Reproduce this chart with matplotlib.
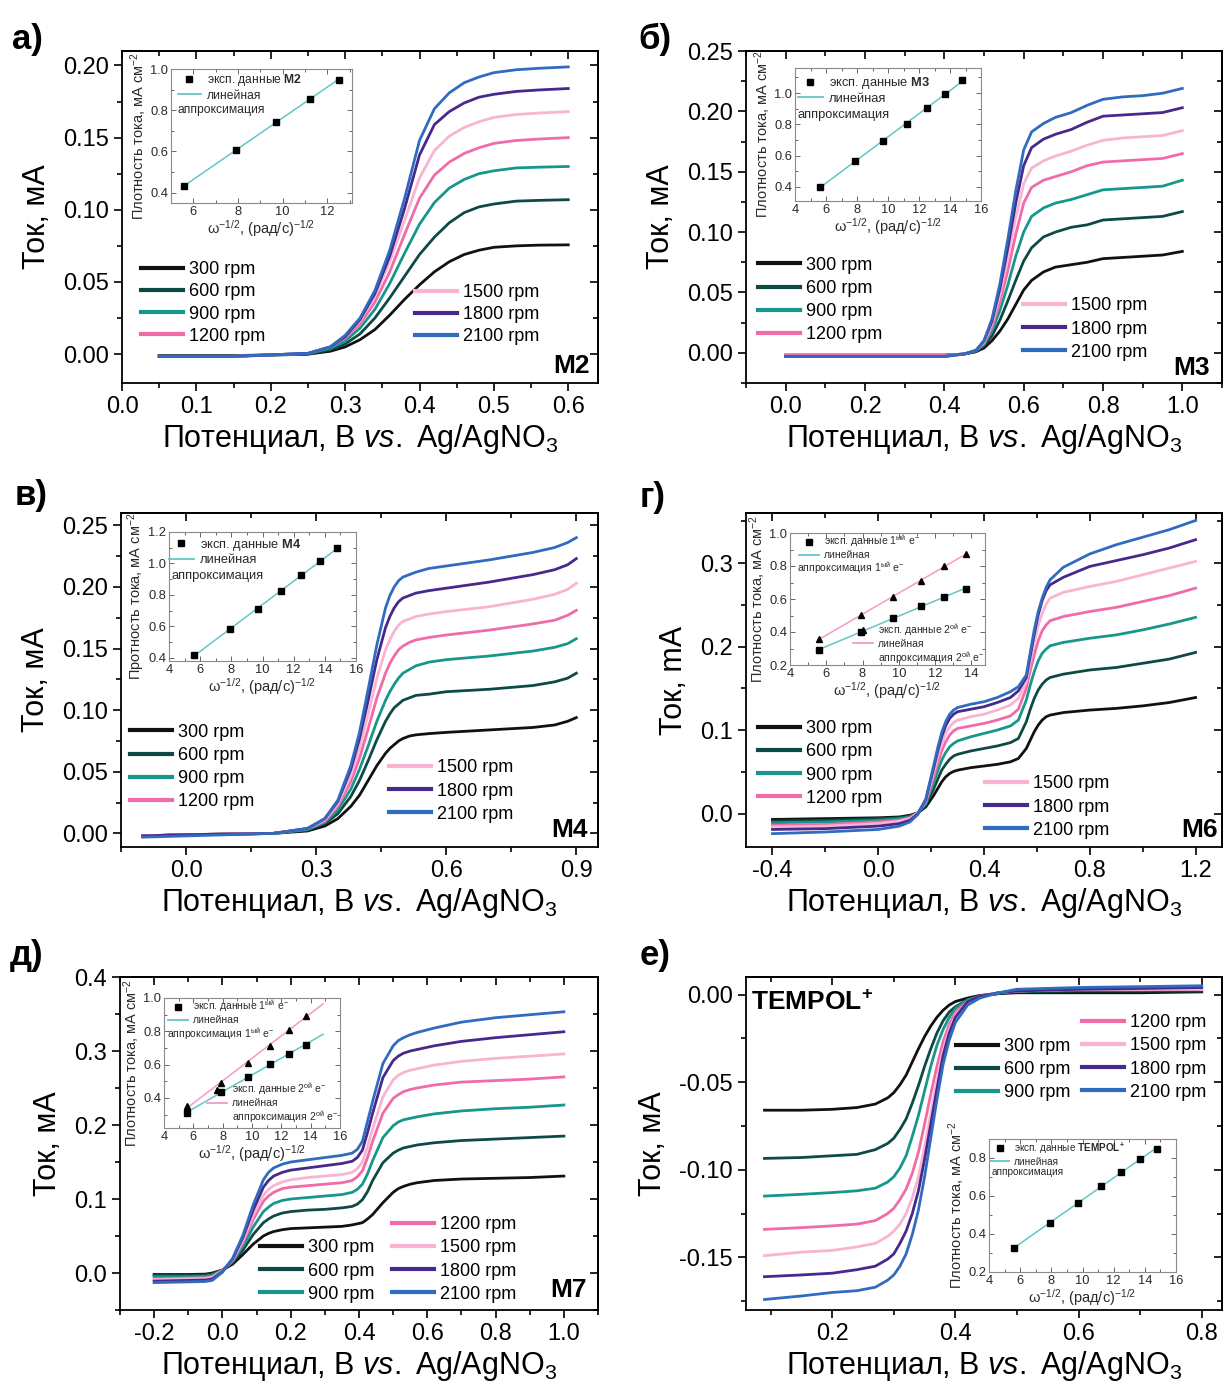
import numpy as np
import matplotlib
matplotlib.use('Agg')
import matplotlib.pyplot as plt
from matplotlib.ticker import MultipleLocator, FuncFormatter, NullFormatter
from matplotlib.lines import Line2D

plt.rcParams['font.family'] = ['Liberation Sans', 'DejaVu Sans']
plt.rcParams['mathtext.fontset'] = 'custom'
plt.rcParams['mathtext.rm'] = 'Liberation Sans'
plt.rcParams['mathtext.it'] = 'Liberation Sans:italic'
plt.rcParams['mathtext.bf'] = 'Liberation Sans:bold'
plt.rcParams['axes.unicode_minus'] = False

W, H = 1224, 1384

RPM = ['300 rpm', '600 rpm', '900 rpm', '1200 rpm', '1500 rpm', '1800 rpm', '2100 rpm']
COLORS = ['#111111', '#0e4a45', '#17968c', '#f06ba8', '#f8b4d2', '#47288c', '#2f6cc0']
FIT_CYAN = '#63c5c7'
FIT_PINK = '#f39bc2'

# ---- panel а) M2 ----
E_M2 = [0.05, 0.15, 0.25, 0.28, 0.30, 0.32, 0.34, 0.36, 0.38, 0.40, 0.42, 0.44, 0.46, 0.48, 0.50, 0.53, 0.56, 0.60]
I_M2 = [
    [-0.0010, -0.0010, 0.0000, 0.002, 0.005, 0.010, 0.017, 0.027, 0.038, 0.048, 0.057, 0.064, 0.069, 0.072, 0.074, 0.075, 0.0755, 0.0757],
    [-0.0015, -0.0015, 0.0000, 0.003, 0.007, 0.014, 0.025, 0.039, 0.054, 0.069, 0.081, 0.091, 0.098, 0.102, 0.104, 0.106, 0.1065, 0.107],
    [-0.0015, -0.0015, 0.0005, 0.004, 0.009, 0.018, 0.031, 0.049, 0.070, 0.090, 0.105, 0.115, 0.121, 0.125, 0.127, 0.129, 0.1295, 0.130],
    [-0.0015, -0.0015, 0.0005, 0.005, 0.011, 0.021, 0.036, 0.057, 0.083, 0.108, 0.124, 0.133, 0.139, 0.143, 0.146, 0.148, 0.149, 0.150],
    [-0.0015, -0.0015, 0.0005, 0.005, 0.012, 0.023, 0.040, 0.064, 0.093, 0.122, 0.141, 0.151, 0.157, 0.161, 0.164, 0.166, 0.167, 0.168],
    [-0.0015, -0.0015, 0.0005, 0.005, 0.012, 0.024, 0.042, 0.068, 0.101, 0.138, 0.159, 0.168, 0.174, 0.178, 0.180, 0.182, 0.183, 0.184],
    [-0.0015, -0.0015, 0.0005, 0.005, 0.013, 0.025, 0.044, 0.072, 0.108, 0.148, 0.170, 0.181, 0.188, 0.192, 0.195, 0.197, 0.198, 0.199],
]
X_M2 = [5.6, 7.9, 9.7, 11.2, 12.5]
J_M2 = [0.433, 0.606, 0.743, 0.854, 0.948]

# ---- panel б) M3 ----
E_M3 = [0.0, 0.2, 0.4, 0.45, 0.48, 0.50, 0.52, 0.54, 0.56, 0.58, 0.60, 0.62, 0.65, 0.68, 0.72, 0.76, 0.80, 0.85, 0.90, 0.95, 1.0]
I_M3 = [
    [-0.002, -0.002, -0.002, -0.001, 0.001, 0.004, 0.010, 0.018, 0.028, 0.040, 0.052, 0.060, 0.067, 0.071, 0.073, 0.075, 0.078, 0.079, 0.080, 0.081, 0.084],
    [-0.002, -0.002, -0.002, -0.001, 0.001, 0.006, 0.014, 0.027, 0.043, 0.060, 0.076, 0.087, 0.096, 0.100, 0.104, 0.106, 0.110, 0.111, 0.112, 0.113, 0.117],
    [-0.002, -0.002, -0.002, -0.001, 0.002, 0.007, 0.018, 0.035, 0.056, 0.080, 0.100, 0.113, 0.120, 0.124, 0.127, 0.131, 0.135, 0.136, 0.137, 0.138, 0.143],
    [-0.002, -0.002, -0.002, -0.001, 0.002, 0.008, 0.021, 0.042, 0.068, 0.098, 0.124, 0.137, 0.143, 0.146, 0.150, 0.155, 0.158, 0.159, 0.160, 0.161, 0.165],
    [-0.003, -0.003, -0.003, -0.001, 0.002, 0.009, 0.024, 0.048, 0.078, 0.112, 0.140, 0.153, 0.159, 0.163, 0.167, 0.172, 0.176, 0.178, 0.179, 0.180, 0.184],
    [-0.003, -0.003, -0.003, -0.001, 0.002, 0.010, 0.026, 0.053, 0.087, 0.124, 0.155, 0.170, 0.177, 0.181, 0.185, 0.191, 0.196, 0.197, 0.198, 0.199, 0.203],
    [-0.003, -0.003, -0.003, -0.001, 0.002, 0.010, 0.028, 0.057, 0.094, 0.134, 0.168, 0.183, 0.190, 0.195, 0.199, 0.205, 0.210, 0.212, 0.213, 0.215, 0.219],
]
X_M3 = [5.6, 7.9, 9.7, 11.2, 12.5, 13.7, 14.8]
J_M3 = [0.400, 0.564, 0.694, 0.805, 0.902, 0.994, 1.081]

# ---- panel в) M4 ----
E_M4 = [-0.10, 0.00, 0.10, 0.20, 0.28, 0.32, 0.35, 0.38, 0.40, 0.42, 0.44, 0.46, 0.47, 0.48, 0.49, 0.50, 0.515, 0.53, 0.56, 0.60, 0.70, 0.80, 0.85, 0.88, 0.90]
I_M4 = [
    [-0.002, -0.001, -0.0005, 0.000, 0.002, 0.006, 0.012, 0.022, 0.031, 0.043, 0.055, 0.065, 0.069, 0.072, 0.075, 0.077, 0.079, 0.080, 0.081, 0.082, 0.084, 0.086, 0.088, 0.091, 0.094],
    [-0.002, -0.001, -0.0005, 0.000, 0.003, 0.008, 0.016, 0.030, 0.043, 0.059, 0.076, 0.091, 0.097, 0.102, 0.105, 0.108, 0.110, 0.112, 0.113, 0.115, 0.117, 0.120, 0.123, 0.126, 0.130],
    [-0.002, -0.001, -0.0005, 0.000, 0.003, 0.009, 0.019, 0.036, 0.052, 0.071, 0.091, 0.108, 0.115, 0.121, 0.126, 0.130, 0.133, 0.136, 0.139, 0.141, 0.144, 0.148, 0.151, 0.154, 0.158],
    [-0.002, -0.001, -0.0005, 0.000, 0.004, 0.010, 0.022, 0.042, 0.061, 0.085, 0.110, 0.130, 0.138, 0.144, 0.149, 0.152, 0.155, 0.157, 0.159, 0.161, 0.165, 0.170, 0.173, 0.177, 0.181],
    [-0.002, -0.001, -0.0005, 0.000, 0.004, 0.011, 0.024, 0.047, 0.069, 0.097, 0.126, 0.149, 0.157, 0.164, 0.169, 0.172, 0.174, 0.176, 0.178, 0.180, 0.184, 0.190, 0.194, 0.198, 0.203],
    [-0.002, -0.001, -0.0005, 0.000, 0.004, 0.012, 0.026, 0.052, 0.077, 0.108, 0.141, 0.167, 0.176, 0.183, 0.188, 0.191, 0.193, 0.195, 0.197, 0.199, 0.204, 0.210, 0.214, 0.218, 0.223],
    [-0.003, -0.002, -0.001, 0.000, 0.004, 0.012, 0.027, 0.055, 0.082, 0.117, 0.153, 0.183, 0.193, 0.200, 0.205, 0.208, 0.210, 0.212, 0.215, 0.217, 0.222, 0.228, 0.232, 0.236, 0.240],
]
X_M4 = [5.6, 7.9, 9.7, 11.2, 12.5, 13.7, 14.8]
J_M4 = [0.415, 0.583, 0.713, 0.823, 0.925, 1.016, 1.098]

# ---- panel г) M6 ----
E_M6 = [-0.40, -0.20, 0.00, 0.08, 0.12, 0.15, 0.18, 0.21, 0.225, 0.24, 0.255, 0.27, 0.285, 0.30, 0.35, 0.40, 0.45, 0.50, 0.53, 0.56, 0.575, 0.59, 0.605, 0.62, 0.635, 0.65, 0.70, 0.80, 0.90, 1.00, 1.10, 1.20]
I_M6 = [
    [-0.007, -0.006, -0.005, -0.004, -0.002, 0.001, 0.008, 0.022, 0.030, 0.038, 0.044, 0.048, 0.0505, 0.052, 0.055, 0.057, 0.059, 0.062, 0.066, 0.078, 0.088, 0.098, 0.106, 0.112, 0.116, 0.118, 0.121, 0.124, 0.126, 0.129, 0.133, 0.139],
    [-0.009, -0.008, -0.006, -0.005, -0.003, 0.001, 0.010, 0.030, 0.041, 0.052, 0.059, 0.065, 0.069, 0.071, 0.075, 0.078, 0.081, 0.085, 0.090, 0.110, 0.125, 0.138, 0.148, 0.155, 0.160, 0.163, 0.167, 0.172, 0.175, 0.180, 0.185, 0.193],
    [-0.011, -0.010, -0.008, -0.006, -0.004, 0.001, 0.012, 0.037, 0.051, 0.064, 0.073, 0.080, 0.084, 0.087, 0.092, 0.096, 0.100, 0.105, 0.112, 0.136, 0.154, 0.170, 0.183, 0.192, 0.197, 0.201, 0.205, 0.210, 0.214, 0.220, 0.227, 0.235],
    [-0.014, -0.013, -0.010, -0.008, -0.005, 0.001, 0.014, 0.044, 0.060, 0.075, 0.086, 0.094, 0.099, 0.102, 0.105, 0.108, 0.112, 0.117, 0.125, 0.150, 0.171, 0.190, 0.207, 0.219, 0.226, 0.231, 0.236, 0.242, 0.247, 0.254, 0.261, 0.270],
    [-0.016, -0.015, -0.012, -0.009, -0.006, 0.001, 0.016, 0.050, 0.068, 0.084, 0.096, 0.104, 0.109, 0.112, 0.116, 0.119, 0.124, 0.130, 0.138, 0.158, 0.182, 0.205, 0.225, 0.240, 0.251, 0.258, 0.265, 0.272, 0.278, 0.286, 0.294, 0.302],
    [-0.019, -0.018, -0.015, -0.012, -0.008, 0.000, 0.017, 0.055, 0.075, 0.092, 0.105, 0.114, 0.119, 0.122, 0.125, 0.128, 0.133, 0.139, 0.147, 0.163, 0.189, 0.215, 0.238, 0.255, 0.267, 0.274, 0.283, 0.296, 0.303, 0.310, 0.318, 0.328],
    [-0.024, -0.022, -0.019, -0.015, -0.010, -0.001, 0.017, 0.058, 0.079, 0.097, 0.110, 0.119, 0.124, 0.127, 0.131, 0.134, 0.139, 0.146, 0.152, 0.166, 0.193, 0.220, 0.242, 0.258, 0.271, 0.280, 0.295, 0.311, 0.322, 0.331, 0.340, 0.351],
]
X_M6 = [5.6, 7.9, 9.7, 11.2, 12.5, 13.7]
J_M6_1 = [0.288, 0.403, 0.486, 0.560, 0.610, 0.661]
J_M6_2 = [0.355, 0.503, 0.615, 0.712, 0.800, 0.870]

# ---- panel д) M7 ----
E_M7 = [-0.20, -0.10, -0.05, -0.03, 0.00, 0.03, 0.06, 0.09, 0.12, 0.135, 0.15, 0.175, 0.20, 0.25, 0.30, 0.35, 0.38, 0.395, 0.41, 0.425, 0.44, 0.47, 0.50, 0.515, 0.53, 0.55, 0.57, 0.62, 0.70, 0.80, 0.90, 1.00]
I_M7 = [
    [-0.002, -0.002, -0.0015, 0.000, 0.004, 0.012, 0.025, 0.039, 0.050, 0.0535, 0.056, 0.0585, 0.060, 0.061, 0.062, 0.063, 0.065, 0.0665, 0.068, 0.073, 0.079, 0.095, 0.109, 0.114, 0.117, 0.120, 0.122, 0.125, 0.127, 0.128, 0.129, 0.131],
    [-0.003, -0.003, -0.0025, -0.001, 0.004, 0.014, 0.031, 0.052, 0.068, 0.073, 0.077, 0.081, 0.083, 0.085, 0.086, 0.088, 0.090, 0.093, 0.099, 0.110, 0.125, 0.149, 0.162, 0.166, 0.169, 0.171, 0.173, 0.176, 0.179, 0.181, 0.183, 0.185],
    [-0.005, -0.005, -0.0045, -0.003, 0.004, 0.016, 0.036, 0.062, 0.083, 0.089, 0.094, 0.098, 0.100, 0.102, 0.104, 0.106, 0.109, 0.113, 0.120, 0.134, 0.152, 0.183, 0.199, 0.204, 0.207, 0.209, 0.211, 0.215, 0.219, 0.222, 0.224, 0.227],
    [-0.008, -0.007, -0.0065, -0.005, 0.003, 0.017, 0.041, 0.072, 0.097, 0.104, 0.109, 0.114, 0.116, 0.118, 0.120, 0.122, 0.125, 0.130, 0.138, 0.156, 0.178, 0.216, 0.236, 0.241, 0.245, 0.248, 0.250, 0.254, 0.258, 0.260, 0.262, 0.265],
    [-0.009, -0.008, -0.0075, -0.006, 0.003, 0.018, 0.044, 0.078, 0.105, 0.113, 0.118, 0.123, 0.126, 0.129, 0.131, 0.133, 0.136, 0.141, 0.150, 0.171, 0.195, 0.238, 0.261, 0.267, 0.271, 0.274, 0.276, 0.281, 0.286, 0.290, 0.293, 0.296],
    [-0.011, -0.010, -0.0095, -0.008, 0.002, 0.019, 0.048, 0.085, 0.116, 0.125, 0.131, 0.136, 0.139, 0.142, 0.145, 0.148, 0.151, 0.156, 0.166, 0.190, 0.216, 0.264, 0.287, 0.293, 0.297, 0.300, 0.302, 0.307, 0.313, 0.318, 0.322, 0.326],
    [-0.013, -0.012, -0.0115, -0.010, 0.001, 0.020, 0.051, 0.092, 0.126, 0.136, 0.142, 0.147, 0.150, 0.153, 0.156, 0.159, 0.162, 0.167, 0.178, 0.205, 0.232, 0.283, 0.307, 0.314, 0.318, 0.322, 0.325, 0.331, 0.339, 0.345, 0.349, 0.353],
]
X_M7 = [5.6, 7.9, 9.7, 11.2, 12.5, 13.7]
J_M7_1 = [0.312, 0.435, 0.528, 0.602, 0.665, 0.719]
J_M7_2 = [0.350, 0.492, 0.609, 0.714, 0.810, 0.894]

# ---- panel е) TEMPOL+ ----
E_TEMPOL = [0.09, 0.15, 0.20, 0.24, 0.27, 0.29, 0.30, 0.31, 0.32, 0.33, 0.34, 0.35, 0.36, 0.37, 0.38, 0.39, 0.40, 0.42, 0.44, 0.47, 0.50, 0.60, 0.70, 0.80]
I_TEMPOL = [
    [-0.066, -0.066, -0.0655, -0.0645, -0.0625, -0.059, -0.056, -0.0515, -0.046, -0.0385, -0.031, -0.024, -0.018, -0.013, -0.009, -0.006, -0.004, -0.002, -0.0005, 0.0005, 0.001, 0.001, 0.001, 0.0015],
    [-0.0935, -0.093, -0.092, -0.0912, -0.0885, -0.085, -0.082, -0.077, -0.071, -0.062, -0.052, -0.041, -0.031, -0.022, -0.015, -0.010, -0.007, -0.003, -0.001, 0.0005, 0.0015, 0.002, 0.002, 0.002],
    [-0.115, -0.114, -0.113, -0.112, -0.1105, -0.107, -0.104, -0.099, -0.092, -0.081, -0.069, -0.055, -0.041, -0.029, -0.020, -0.013, -0.008, -0.003, -0.001, 0.001, 0.002, 0.0025, 0.0025, 0.003],
    [-0.134, -0.133, -0.132, -0.131, -0.129, -0.125, -0.122, -0.117, -0.111, -0.102, -0.090, -0.074, -0.057, -0.041, -0.027, -0.017, -0.010, -0.004, -0.001, 0.001, 0.002, 0.003, 0.003, 0.003],
    [-0.149, -0.147, -0.146, -0.144, -0.142, -0.138, -0.135, -0.131, -0.125, -0.116, -0.104, -0.087, -0.068, -0.049, -0.032, -0.020, -0.012, -0.004, -0.001, 0.001, 0.002, 0.003, 0.003, 0.003],
    [-0.161, -0.160, -0.159, -0.157, -0.155, -0.151, -0.148, -0.142, -0.135, -0.125, -0.112, -0.094, -0.074, -0.054, -0.035, -0.022, -0.013, -0.004, -0.001, 0.001, 0.002, 0.003, 0.0035, 0.004],
    [-0.174, -0.172, -0.170, -0.169, -0.167, -0.163, -0.160, -0.155, -0.148, -0.137, -0.123, -0.104, -0.082, -0.060, -0.040, -0.026, -0.016, -0.006, -0.002, 0.001, 0.003, 0.004, 0.0045, 0.005],
]
X_TEMPOL = [5.6, 7.9, 9.7, 11.2, 12.5, 13.7, 14.8]
J_TEMPOL = [0.324, 0.459, 0.563, 0.655, 0.726, 0.796, 0.849]

XLABEL = r'Потенциал, В $\mathit{vs.}$ Ag/AgNO$_3$'
INSET_XLABEL = r'ω$^{-1/2}$, (рад/с)$^{-1/2}$'
TXT = '#2a2a2a'

fig = plt.figure(figsize=(W / 100, H / 100), dpi=100)


def px_box(l, t, r, b):
    return [l / W, 1 - b / H, (r - l) / W, (b - t) / H]


def fpt(x, y):
    return (x / W, 1 - y / H)


def fmt(n):
    return FuncFormatter(lambda v, p: f'{round(v, 6) + 0.0:.{n}f}')


def keep_legend(ax, leg):
    # detach from ax.legend_ so the legend is drawn only once
    ax.legend_ = None
    ax.add_artist(leg)


def main_panel(box, E, curves, xlim, ylim, xstep, ystep, xdec, ydec, ylabel='Ток, мА'):
    ax = fig.add_axes(px_box(*box))
    for ys, c in zip(curves, COLORS):
        ax.plot(E, ys, color=c, lw=2.0)
    ax.set_xlim(*xlim)
    ax.set_ylim(*ylim)
    ax.xaxis.set_major_locator(MultipleLocator(xstep))
    ax.xaxis.set_minor_locator(MultipleLocator(xstep / 2))
    ax.yaxis.set_major_locator(MultipleLocator(ystep))
    ax.yaxis.set_minor_locator(MultipleLocator(ystep / 2))
    ax.xaxis.set_major_formatter(fmt(xdec))
    ax.yaxis.set_major_formatter(fmt(ydec))
    ax.tick_params(which='major', direction='out', length=6, width=1.2, labelsize=17)
    ax.tick_params(which='minor', direction='out', length=3.5, width=1.2)
    for s in ax.spines.values():
        s.set_linewidth(1.3)
    # mirrored ticks pointing inwards on top and right
    sx = ax.secondary_xaxis('top')
    sy = ax.secondary_yaxis('right')
    for sec, axis in ((sx, sx.xaxis), (sy, sy.yaxis)):
        step = xstep if sec is sx else ystep
        axis.set_major_locator(MultipleLocator(step))
        axis.set_minor_locator(MultipleLocator(step / 2))
        axis.set_major_formatter(NullFormatter())
        sec.tick_params(which='major', direction='in', length=6, width=1.2)
        sec.tick_params(which='minor', direction='in', length=3.5, width=1.2)
        for s in sec.spines.values():
            s.set_linewidth(1.3)
    ax.set_xlabel(XLABEL, fontsize=22, labelpad=3)
    ax.set_ylabel(ylabel, fontsize=22, labelpad=8)
    return ax


def rpm_legend(ax, idx, x, yc, ls=0.34):
    handles = [Line2D([], [], color=COLORS[i], lw=3) for i in idx]
    leg = ax.legend(handles, [RPM[i] for i in idx], loc='center left',
                    bbox_to_anchor=fpt(x, yc), bbox_transform=fig.transFigure,
                    frameon=False, fontsize=13, handlelength=2.3, handletextpad=0.35,
                    labelspacing=ls, borderpad=0, borderaxespad=0)
    keep_legend(ax, leg)


def inset_panel(box, xlim, ylim, ylabel='Плотность тока, мА см$^{-2}$'):
    ai = fig.add_axes(px_box(*box))
    ai.set_xlim(*xlim)
    ai.set_ylim(*ylim)
    ai.xaxis.set_major_locator(MultipleLocator(2))
    ai.xaxis.set_minor_locator(MultipleLocator(1))
    ai.yaxis.set_major_locator(MultipleLocator(0.2))
    ai.yaxis.set_minor_locator(MultipleLocator(0.1))
    ai.xaxis.set_major_formatter(fmt(0))
    ai.yaxis.set_major_formatter(fmt(1))
    ai.tick_params(which='both', direction='in', top=True, right=True, width=0.7,
                   color='#666666', labelsize=9.3, labelcolor=TXT, pad=2)
    ai.tick_params(which='major', length=3.5)
    ai.tick_params(which='minor', length=2)
    for s in ai.spines.values():
        s.set_linewidth(0.8)
        s.set_color('#8a8a8a')
    ai.set_xlabel(INSET_XLABEL, fontsize=10.5, labelpad=0, color=TXT)
    ai.set_ylabel(ylabel, fontsize=10.5, labelpad=1, color=TXT)
    return ai


def fit_line(ai, X, J, color, xr=None):
    k, b = np.polyfit(X, J, 1)
    xs = np.array(xr if xr is not None else [X[0], X[-1]])
    ai.plot(xs, k * xs + b, color=color, lw=1.1, zorder=1)


def inset_legend(ai, handles, labels, x, yc, fs, loc='center left', align='left', hl=1.9):
    leg = ai.legend(handles, labels, loc=loc, bbox_to_anchor=fpt(x, yc),
                    bbox_transform=fig.transFigure, frameon=False, fontsize=fs,
                    handlelength=hl, handletextpad=0.5, labelspacing=0.1,
                    borderpad=0, borderaxespad=0, alignment=align, labelcolor=TXT)
    keep_legend(ai, leg)


SQ = dict(marker='s', ls='none', color='black', ms=4)
TR = dict(marker='^', ls='none', color='black', ms=4.5)
E1 = r'1$^{\mathrm{ый}}$ e$^{-}$'
E2 = r'2$^{\mathrm{ой}}$ e$^{-}$'


def simple_inset(box, xlim, ylim, X, J, name, leg_x, leg_yc, fs, txt_xy, ylabel=None):
    ai = inset_panel(box, xlim, ylim, ylabel) if ylabel else inset_panel(box, xlim, ylim)
    fit_line(ai, X, J, FIT_CYAN)
    ai.plot(X, J, **SQ, zorder=3)
    inset_legend(ai, [Line2D([], [], **SQ), Line2D([], [], color=FIT_CYAN, lw=1.3)],
                 ['эксп. данные ' + name, 'линейная'], leg_x, leg_yc, fs)
    fig.text(*fpt(*txt_xy), 'аппроксимация', fontsize=fs, va='center', ha='left', color=TXT)


def two_e_inset(box, xlim, ylim, X, J1, J2, xr, leg1, leg2, fs):
    ai = inset_panel(box, xlim, ylim)
    fit_line(ai, X, J1, FIT_CYAN, xr)
    fit_line(ai, X, J2, FIT_PINK, xr)
    ai.plot(X, J1, **SQ, zorder=3)
    ai.plot(X, J2, **TR, zorder=3)
    inset_legend(ai, [Line2D([], [], **SQ), Line2D([], [], color=FIT_CYAN, lw=1.3)],
                 ['эксп. данные ' + E1, 'линейная'], leg1[0], leg1[1], fs)
    fig.text(*fpt(*leg1[2]), 'аппроксимация ' + E1, fontsize=fs, va='center', ha='left',
             color=TXT)
    inset_legend(ai, [Line2D([], [], **TR), Line2D([], [], color=FIT_PINK, lw=1.3),
                      Line2D([], [], ls='none')],
                 ['эксп. данные ' + E2, 'линейная', 'аппроксимация ' + E2],
                 leg2[0], leg2[1], fs, loc='center right', align='right')


# а) M2
ax = main_panel((122, 51, 598, 383), E_M2, I_M2, (0, 0.64), (-0.02, 0.21), 0.1, 0.05, 1, 2)
rpm_legend(ax, [0, 1, 2, 3], 141, 303, ls=0.28)
rpm_legend(ax, [4, 5, 6], 415, 314.5, ls=0.28)
fig.text(*fpt(590, 373), 'M2', fontsize=19, fontweight='bold', ha='right', va='baseline')
simple_inset((171, 69, 352, 203), (5, 13.1), (0.35, 1.0), X_M2, J_M2, r'$\mathbf{M2}$',
             178, 87, 8.7, (178, 110))

# б) M3
ax = main_panel((746, 51, 1222, 383), E_M3, I_M3, (-0.1, 1.1), (-0.025, 0.25), 0.2, 0.05, 1, 2)
rpm_legend(ax, [0, 1, 2, 3], 758, 300)
rpm_legend(ax, [4, 5, 6], 1023, 329)
fig.text(*fpt(1210, 375), 'M3', fontsize=19, fontweight='bold', ha='right', va='baseline')
simple_inset((795, 68, 981, 201), (4, 16), (0.31, 1.16), X_M3, J_M3, r'$\mathbf{M3}$',
             798, 90, 9.3, (798, 115))

# в) M4
ax = main_panel((121, 513, 598, 847), E_M4, I_M4, (-0.15, 0.95), (-0.011, 0.26), 0.3, 0.05, 1, 2)
rpm_legend(ax, [0, 1, 2, 3], 130, 767)
rpm_legend(ax, [4, 5, 6], 389, 791)
fig.text(*fpt(588, 837), 'M4', fontsize=19, fontweight='bold', ha='right', va='baseline')
simple_inset((169, 532, 356, 661), (4, 16), (0.38, 1.2), X_M4, J_M4, r'$\mathbf{M4}$',
             169, 551.5, 9.3, (172, 576), ylabel='Протность тока, мА см$^{-2}$')

# г) M6
ax = main_panel((746, 513, 1222, 847), E_M6, I_M6, (-0.5, 1.3), (-0.04, 0.36), 0.4, 0.1, 1, 1,
                ylabel='Ток, mA')
rpm_legend(ax, [0, 1, 2, 3], 758, 763.5)
rpm_legend(ax, [4, 5, 6], 985, 807)
fig.text(*fpt(1218, 837), 'M6', fontsize=19, fontweight='bold', ha='right', va='baseline')
two_e_inset((790, 533, 985, 665), (4, 14.75), (0.2, 1.0), X_M6, J_M6_1, J_M6_2, None,
            (799, 547, (797, 568)), (984, 644), 7.5)

# д) M7
ax = main_panel((120, 977, 598, 1310), E_M7, I_M7, (-0.3, 1.1), (-0.05, 0.4), 0.2, 0.1, 1, 1)
rpm_legend(ax, [0, 1, 2], 260, 1271)
rpm_legend(ax, [3, 4, 5, 6], 392, 1259.5)
fig.text(*fpt(587, 1297), 'M7', fontsize=19, fontweight='bold', ha='right', va='baseline')
two_e_inset((164, 998, 340, 1128), (4, 16), (0.22, 1.0), X_M7, J_M7_1, J_M7_2, (5.6, 14.85),
            (168, 1012, (167, 1034)), (338, 1103.5), 7.5)

# е) TEMPOL+
ax = main_panel((746, 977, 1222, 1310), E_TEMPOL, I_TEMPOL, (0.06, 0.833), (-0.18, 0.01),
                0.2, 0.05, 1, 2)
rpm_legend(ax, [0, 1, 2], 956, 1069.5)
rpm_legend(ax, [3, 4, 5, 6], 1082, 1057.5)
fig.text(*fpt(751, 991), r'TEMPOL$^{\mathbf{+}}$', fontsize=19, fontweight='bold',
         ha='left', va='top')
simple_inset((989, 1139, 1176, 1272), (4, 16), (0.2, 0.9), X_TEMPOL, J_TEMPOL,
             r'$\mathbf{TEMPOL^{+}}$', 990, 1153.5, 7.2, (992, 1172))

# panel letters
for letter, x, y in [('а)', 12, 39), ('б)', 638, 39), ('в)', 15, 495),
                     ('г)', 640, 497), ('д)', 10, 956), ('е)', 640, 956)]:
    fig.text(*fpt(x, y), letter, fontsize=25, fontweight='bold', ha='left', va='center')

fig.savefig('out.png', dpi=100)
